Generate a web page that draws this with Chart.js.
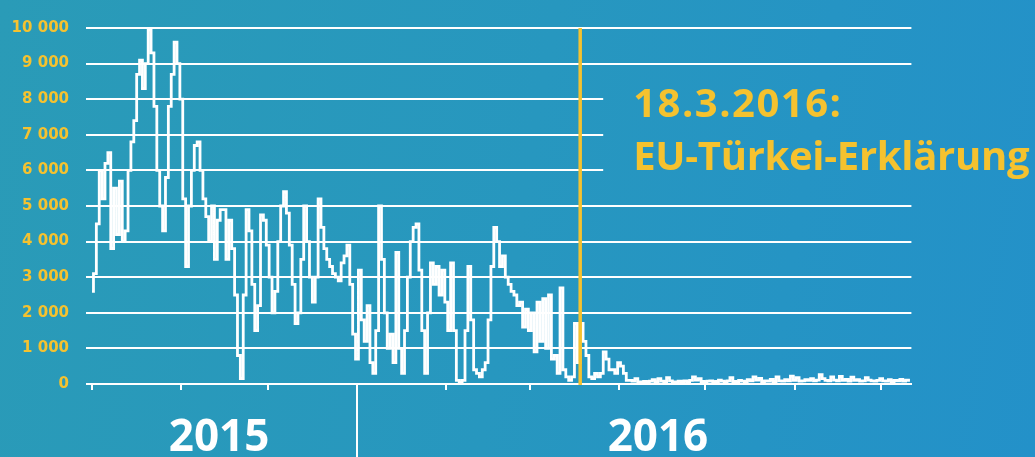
<!DOCTYPE html>
<html><head><meta charset="utf-8">
<script src="https://cdn.jsdelivr.net/npm/chart.js@4.4.1/dist/chart.umd.min.js"></script>
<style>
html,body{margin:0;padding:0;width:1035px;height:457px;overflow:hidden;}
body{background:linear-gradient(100deg,#2a9bb7 0%,#2797bf 50%,#2391c9 100%);}
canvas{display:block;}
</style></head><body>
<canvas id="c" width="1035" height="457"></canvas>
<script>
// Daily arrivals, day 0 = 1 Oct 2015
const dailyArrivals = [
2600,3100,4500,6000,5200,6200,6500,3800,5500,4200,
5700,4000,4300,6000,6800,7400,8700,9100,8300,9000,
9950,9300,7800,6000,5000,4300,5800,7800,8700,9600,
9000,8000,5200,3300,5000,6000,6700,6800,6000,5200,
4700,4000,5000,3500,4600,4900,4900,3500,
4600,3800,2500,800,150,2500,4900,4300,2800,1500,2200,4750,
4600,3900,3000,2000,2600,4000,5000,5400,4800,3900,
2800,1700,2000,3500,5000,4000,3000,2300,3000,5200,
4400,3800,3500,3300,3100,3000,2900,3400,3600,3900,
2800,1400,700,3200,1800,1200,2200,600,300,1500,
5000,3500,2000,1000,1400,600,3700,1000,300,1500,
3000,4000,4400,4500,3200,1500,300,2000,3400,2800,
3300,2500,3200,2300,1500,3400,1500,100,50,100,
1500,3300,1800,400,300,200,400,600,1800,3300,
4400,4000,3300,3600,3000,2800,2600,2500,2200,2300,
1600,2100,1500,2000,900,2300,1200,2400,1000,2500,
700,800,300,2700,400,200,100,200,1700,600,
1700,1200,800,200,150,300,200,300,900,700,
400,400,300,600,500,300,100,
100,80,150,60,50,70,60,80,120,60,
150,80,70,180,90,60,50,80,70,90,
60,100,200,110,150,70,60,80,90,60,
70,110,80,60,90,180,70,60,100,80,
70,120,90,200,110,160,70,90,80,130,
70,200,90,80,120,90,220,100,180,80,
90,120,100,150,90,110,260,150,100,90,
200,110,90,210,100,130,80,190,100,120,
80,90,180,110,90,80,100,150,90,80,
120,70,100,90,130,80,110,100
];
const yTickValues = [0,1000,2000,3000,4000,5000,6000,7000,8000,9000,10000];
const yTickLabels = ['0','1 000','2 000','3 000','4 000','5 000','6 000','7 000','8 000','9 000','10 000'];
const monthTickDays = [0,31,61,92,123,152,183,213,244,274]; // 1st of Oct..Jul
const yearLabels = ['2015','2016'];
const yearLabelDays = [44.1, 196.5];
const yearBoundaryDay = 92;   // 1 Jan 2016
const eventDay = 169;         // 18 Mar 2016
const eventText = ['18.3.2016:', 'EU-Türkei-Erklärung'];

const YELLOW = '#f5c22f';
const points = dailyArrivals.map((v,i)=>({x:i,y:v}));

const decor = {
  id:'decor',
  beforeDatasetsDraw(chart){
    const {ctx, chartArea:a, scales:{x,y}} = chart;
    const textX = x.getPixelForValue(eventDay + 0.5) + 53;
    ctx.save();
    ctx.strokeStyle = '#ffffff';
    ctx.lineWidth = 2;
    yTickValues.forEach(v=>{
      const py = Math.round(y.getPixelForValue(v));
      let right = a.right;
      if (v >= 6000 && v <= 8000) right = textX - 30;
      ctx.beginPath(); ctx.moveTo(a.left - 2, py); ctx.lineTo(right, py); ctx.stroke();
    });
    ctx.restore();
  },
  afterDatasetsDraw(chart){
    const {ctx, chartArea:a, scales:{x,y}} = chart;
    ctx.save();
    const ex = x.getPixelForValue(eventDay + 0.5);
    ctx.strokeStyle = YELLOW; ctx.lineWidth = 3.5;
    ctx.beginPath(); ctx.moveTo(ex, a.top); ctx.lineTo(ex, a.bottom+1); ctx.stroke();
    const bx = Math.round(x.getPixelForValue(yearBoundaryDay));
    ctx.strokeStyle = '#ffffff'; ctx.lineWidth = 2;
    ctx.beginPath(); ctx.moveTo(bx, a.bottom); ctx.lineTo(bx, chart.height); ctx.stroke();
    ctx.fillStyle = '#ffffff';
    ctx.font = 'bold 44px "Open Sans"';
    ctx.textAlign = 'center'; ctx.textBaseline = 'alphabetic';
    yearLabels.forEach((t,i)=>ctx.fillText(t, x.getPixelForValue(yearLabelDays[i]), 451));
    ctx.fillStyle = YELLOW;
    ctx.font = 'bold 40px "Open Sans"';
    ctx.textAlign = 'left';
    const tx = ex + 53;
    ctx.letterSpacing = '1.5px';
    ctx.fillText(eventText[0], tx, 117);
    ctx.letterSpacing = '-0.3px';
    ctx.fillText(eventText[1], tx, 170);
    ctx.restore();
  }
};

new Chart(document.getElementById('c'), {
  type:'line',
  data:{datasets:[{
    data: points,
    borderColor:'#ffffff',
    borderWidth:2.8,
    stepped:'middle',
    pointRadius:0,
    fill:false
  }]},
  options:{
    responsive:false,
    animation:false,
    devicePixelRatio:1,
    layout:{padding:{top:23,right:123.6,left:0,bottom:0}},
    plugins:{legend:{display:false},tooltip:{enabled:false}},
    scales:{
      x:{
        type:'linear', min:-1.4, max:284.5,
        afterBuildTicks(s){ s.ticks = monthTickDays.map(v=>({value:v})); },
        afterFit(s){ s.height = 73; },
        ticks:{display:false},
        grid:{display:true, drawOnChartArea:false, drawTicks:true, tickLength:6, color:'#ffffff', lineWidth:2},
        border:{display:true, color:'#ffffff', width:2}
      },
      y:{
        min:0, max:10000,
        afterBuildTicks(s){ s.ticks = yTickValues.map(v=>({value:v})); },
        afterFit(s){ s.width = 88; },
        grid:{display:false, drawTicks:false},
        border:{display:false},
        ticks:{
          padding:19,
          color:YELLOW,
          font:{family:'"DejaVu Sans"', weight:'bold', size:15},
          callback:(v)=>yTickLabels[yTickValues.indexOf(v)]
        }
      }
    }
  },
  plugins:[decor]
});
</script>
</body></html>
